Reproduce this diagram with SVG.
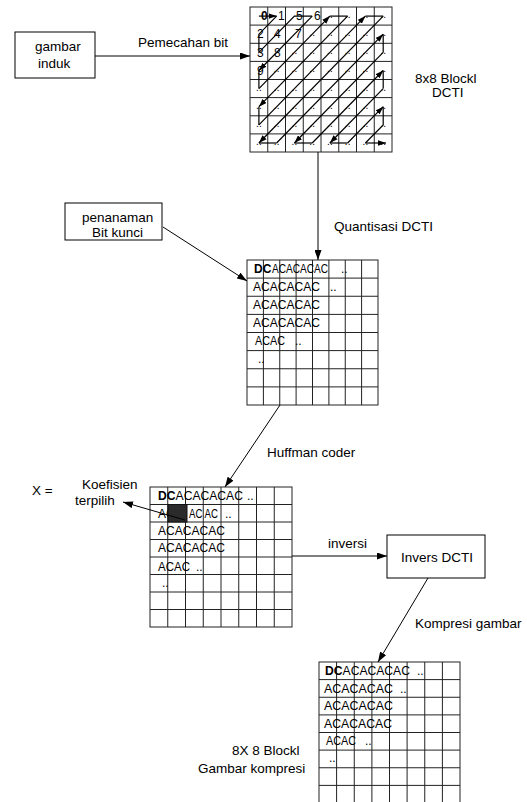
<svg xmlns="http://www.w3.org/2000/svg" width="527" height="802" viewBox="0 0 527 802">
<defs>
<marker id="ah" viewBox="0 0 10 7" refX="10" refY="3.5" markerWidth="10" markerHeight="7" markerUnits="userSpaceOnUse" orient="auto"><path d="M0,0 L10,3.5 L0,7 z" fill="#000"/></marker>
<marker id="ahs" viewBox="0 0 10 7" refX="10" refY="3.5" markerWidth="8" markerHeight="6" markerUnits="userSpaceOnUse" orient="auto"><path d="M0,0 L10,3.5 L0,7 z" fill="#000"/></marker>
</defs>
<style>
text{font-family:"Liberation Sans",Arial,sans-serif;fill:#000}
.lb{font-size:13.5px}
.c{font-size:12px}
.b{font-weight:bold}
.d{font-size:10px}
.box{fill:#fff;stroke:#000;stroke-width:1}
.gr{fill:none;stroke:#222;stroke-width:1}
.ln{fill:none;stroke:#000;stroke-width:1}
.zz{fill:none;stroke:#000;stroke-width:1.2}
</style>
<rect width="527" height="802" fill="#fff"/>

<g id="n_gambar_induk">
<rect class="box" x="15" y="32" width="80" height="46"/>
<text class="lb" x="35" y="51">gambar</text>
<text class="lb" x="38" y="68">induk</text>
</g>

<g id="n_grid_dct">
<rect class="gr" x="250" y="7" width="142" height="145"/>
<path class="gr" d="M267.75,7V152M285.5,7V152M303.25,7V152M321,7V152M338.75,7V152M356.5,7V152M374.25,7V152M250,25.1H392M250,43.3H392M250,61.4H392M250,79.5H392M250,97.6H392M250,115.8H392M250,133.9H392"/>
<text class="c b" x="261" y="20">0</text>
<text class="c" x="278" y="20">1</text>
<text class="c" x="296" y="20">5</text>
<text class="c" x="314" y="20">6</text>
<text class="c" x="257" y="38">2</text>
<text class="c" x="274" y="38">4</text>
<text class="c" x="295" y="38">7</text>
<text class="c" x="257" y="56.5">3</text>
<text class="c" x="274" y="56.5">8</text>
<text class="c" x="257" y="74.5">9</text>
<text class="d" x="327 330 344.8 347.8 362.5 365.5 380.3 383.3" y="18">........</text>
<text class="d" x="309.3 312.3 327 330 344.8 347.8 362.5 365.5 380.3 383.3" y="36.1">..........</text>
<text class="d" x="291.5 294.5 309.3 312.3 327 330 344.8 347.8 362.5 365.5 380.3 383.3" y="54.3">............</text>
<text class="d" x="273.8 276.8 291.5 294.5 309.3 312.3 327 330 344.8 347.8 362.5 365.5 380.3 383.3" y="72.4">..............</text>
<text class="d" x="256 259 273.8 276.8 291.5 294.5 309.3 312.3 327 330 344.8 347.8 362.5 365.5 380.3 383.3" y="90.5">................</text>
<text class="d" x="256 259 273.8 276.8 291.5 294.5 309.3 312.3 327 330 344.8 347.8 362.5 365.5 380.3 383.3" y="108.6">................</text>
<text class="d" x="256 259 273.8 276.8 291.5 294.5 309.3 312.3 327 330 344.8 347.8 362.5 365.5 380.3 383.3" y="126.8">................</text>
<text class="d" x="256 259 273.8 276.8 291.5 294.5 309.3 312.3 327 330 344.8 347.8 362.5 365.5 380.3 383.3" y="144.9">................</text>
<g id="zigzag">
<path class="zz" marker-end="url(#ahs)" d="M258.9,16.1 L276.6,16.1"/>
<path class="zz" d="M276.6,16.1 L258.9,34.2 L258.9,52.4 L294.4,16.1 L312.2,16.1"/>
<path class="zz" marker-end="url(#ahs)" d="M312.2,16.1 L258.9,70.5"/>
<path class="zz" d="M258.9,70.5 L258.9,88.6"/>
<path class="zz" marker-end="url(#ahs)" d="M258.9,88.6 L329.9,16.1"/>
<path class="zz" d="M329.9,16.1 L347.6,16.1"/>
<path class="zz" marker-end="url(#ahs)" d="M347.6,16.1 L258.9,106.7"/>
<path class="zz" d="M258.9,106.7 L258.9,124.9"/>
<path class="zz" marker-end="url(#ahs)" d="M258.9,124.9 L365.4,16.1"/>
<path class="zz" d="M365.4,16.1 L383.2,16.1"/>
<path class="zz" marker-end="url(#ahs)" d="M383.2,16.1 L258.9,143"/>
<path class="zz" d="M258.9,143 L276.6,143"/>
<path class="zz" marker-end="url(#ahs)" d="M276.6,143 L383.2,34.2"/>
<path class="zz" d="M383.2,34.2 L383.2,52.4"/>
<path class="zz" marker-end="url(#ahs)" d="M383.2,52.4 L294.4,143"/>
<path class="zz" d="M294.4,143 L312.2,143"/>
<path class="zz" marker-end="url(#ahs)" d="M312.2,143 L383.2,70.5"/>
<path class="zz" d="M383.2,70.5 L383.2,88.6"/>
<path class="zz" marker-end="url(#ahs)" d="M383.2,88.6 L329.9,143"/>
<path class="zz" d="M329.9,143 L347.6,143"/>
<path class="zz" marker-end="url(#ahs)" d="M347.6,143 L383.2,106.7"/>
<path class="zz" d="M383.2,106.7 L383.2,124.9 L365.4,143"/>
<path class="zz" marker-end="url(#ahs)" d="M365.4,143 L386,143"/>
</g>
</g>

<g id="n_label_dct">
<text class="lb" x="415" y="83">8x8 Blockl</text>
<text class="lb" x="432" y="97">DCTI</text>
</g>

<g id="n_penanaman">
<rect class="box" x="65" y="203" width="97" height="37"/>
<text class="lb" x="82" y="222">penanaman</text>
<text class="lb" x="92" y="237">Bit kunci</text>
</g>

<g id="n_grid_quant">
<rect class="gr" x="247" y="260" width="131" height="145"/>
<path class="gr" d="M263.4,260V405M279.75,260V405M296.1,260V405M312.5,260V405M328.9,260V405M345.25,260V405M361.6,260V405M247,278.1H378M247,296.25H378M247,314.4H378M247,332.5H378M247,350.6H378M247,368.75H378M247,386.9H378"/>
<text class="c b" x="254" y="273">DC</text>
<text class="c" x="272" y="273" textLength="56" lengthAdjust="spacingAndGlyphs">ACACACAC</text>
<text class="c" x="341" y="273">..</text>
<text class="c" x="253" y="291" textLength="67" lengthAdjust="spacingAndGlyphs">ACACACAC</text>
<text class="c" x="330" y="291">..</text>
<text class="c" x="253" y="309" textLength="67" lengthAdjust="spacingAndGlyphs">ACACACAC</text>
<text class="c" x="253" y="327" textLength="67" lengthAdjust="spacingAndGlyphs">ACACACAC</text>
<text class="c" x="255" y="345" textLength="30" lengthAdjust="spacingAndGlyphs">ACAC</text>
<text class="c" x="295" y="345">..</text>
<text class="c" x="258" y="363">..</text>
</g>

<g id="n_grid_huffman">
<rect class="gr" x="150" y="487" width="142" height="140"/>
<path class="gr" d="M167.75,487V627M185.5,487V627M203.25,487V627M221,487V627M238.75,487V627M256.5,487V627M274.25,487V627M150,504.5H292M150,522H292M150,539.5H292M150,557H292M150,574.5H292M150,592H292M150,609.5H292"/>
<text class="c" x="158" y="500" textLength="85" lengthAdjust="spacingAndGlyphs"><tspan class="b">DC</tspan>ACACACAC</text>
<text class="c" x="247" y="500">..</text>
<text class="c" x="158" y="518">AC</text>
<text class="c" x="189" y="518" textLength="29" lengthAdjust="spacingAndGlyphs">AC AC</text>
<text class="c" x="225" y="518">..</text>
<text class="c" x="158" y="535" textLength="67" lengthAdjust="spacingAndGlyphs">ACACACAC</text>
<text class="c" x="158" y="552" textLength="67" lengthAdjust="spacingAndGlyphs">ACACACAC</text>
<text class="c" x="158" y="571" textLength="32" lengthAdjust="spacingAndGlyphs">ACAC</text>
<text class="c" x="196" y="571">..</text>
<text class="c" x="162" y="587">..</text>
<rect x="168" y="504.5" width="19" height="17.5" fill="#2b2b2b" stroke="#111"/>
</g>

<g id="n_koefisien">
<text class="lb" x="32" y="495">X =</text>
<text class="lb" x="82" y="489">Koefisien</text>
<text class="lb" x="75" y="505">terpilih</text>
</g>

<g id="n_invers">
<rect class="box" x="387" y="535" width="98" height="43"/>
<text class="lb" x="437" y="562" text-anchor="middle">Invers DCTI</text>
</g>

<g id="n_grid_kompresi">
<rect class="gr" x="319" y="662" width="141" height="141"/>
<path class="gr" d="M336.6,662V803M354.25,662V803M371.9,662V803M389.5,662V803M407.1,662V803M424.75,662V803M442.4,662V803M319,679.6H460M319,697.25H460M319,714.9H460M319,732.5H460M319,750.1H460M319,767.75H460M319,785.4H460"/>
<text class="c" x="325" y="675" textLength="85" lengthAdjust="spacingAndGlyphs"><tspan class="b">DC</tspan>ACACACAC</text>
<text class="c" x="417" y="675">..</text>
<text class="c" x="324" y="693" textLength="69" lengthAdjust="spacingAndGlyphs">ACACACAC</text>
<text class="c" x="400" y="693">..</text>
<text class="c" x="324" y="710" textLength="69" lengthAdjust="spacingAndGlyphs">ACACACAC</text>
<text class="c" x="324" y="728" textLength="68" lengthAdjust="spacingAndGlyphs">ACACACAC</text>
<text class="c" x="326" y="745" textLength="30" lengthAdjust="spacingAndGlyphs">ACAC</text>
<text class="c" x="365" y="745">..</text>
<text class="c" x="329" y="762">..</text>
</g>

<g id="n_label_kompresi">
<text class="lb" x="232" y="755">8X 8 Blockl</text>
<text class="lb" x="198" y="773">Gambar kompresi</text>
</g>

<g id="connectors">
<path class="ln" marker-end="url(#ah)" d="M95,56 L250,56"/>
<path class="ln" marker-end="url(#ah)" d="M318,152 L318,260"/>
<path class="ln" marker-end="url(#ah)" d="M163,227 L247,281"/>
<path class="ln" marker-end="url(#ah)" d="M280,405 L225,487"/>
<path class="ln" marker-end="url(#ah)" d="M185,520 L123,502"/>
<path class="ln" marker-end="url(#ah)" d="M292,556 L387,556"/>
<path class="ln" marker-end="url(#ah)" d="M428,578 L378,662"/>
</g>

<g id="edge_labels">
<text class="lb" x="138" y="47">Pemecahan bit</text>
<text class="lb" x="334" y="231">Quantisasi DCTI</text>
<text class="lb" x="267" y="457">Huffman coder</text>
<text class="lb" x="328" y="548">inversi</text>
<text class="lb" x="415" y="628">Kompresi gambar</text>
</g>
</svg>
